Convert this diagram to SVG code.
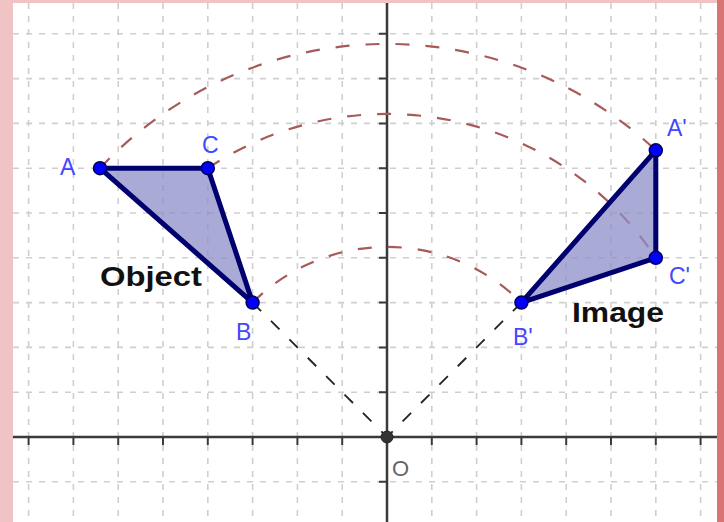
<svg xmlns="http://www.w3.org/2000/svg" width="724" height="522" viewBox="0 0 724 522">
<style>
.grid{stroke:#cfcfcf;stroke-width:1.6;stroke-dasharray:6 7;fill:none}
.axis{stroke:#3a3a3a;stroke-width:2.5;fill:none}
.tick{stroke:#3a3a3a;stroke-width:2;fill:none}
.arc{stroke:#a85a5a;stroke-width:2.2;stroke-dasharray:14 16;fill:none}
.ray{stroke:#222;stroke-width:1.8;stroke-dasharray:12 14;fill:none}
.tri{fill:#8e8ec8;fill-opacity:0.75;stroke:#00006e;stroke-width:5;stroke-linejoin:round}
.pt{fill:#0000ff;stroke:#000050;stroke-width:1.5}
.lbl{font-family:"Liberation Sans",Arial,sans-serif;font-size:23px;fill:#4646ff}
.big{font-family:"Liberation Sans",Arial,sans-serif;font-size:27px;font-weight:bold;fill:#111}
</style>
<rect x="0" y="0" width="724" height="522" fill="#f0c4c4"/>
<rect x="717" y="0" width="7" height="522" fill="#d87474"/>
<rect x="13" y="3" width="704" height="519" fill="#ffffff"/>
<g id="grid">
<path class="grid" d="M28.6 3V522M73.4 3V522M118.2 3V522M163 3V522M207.8 3V522M252.6 3V522M297.4 3V522M342.2 3V522M431.8 3V522M476.6 3V522M521.4 3V522M566.2 3V522M611 3V522M655.8 3V522M700.6 3V522"/>
<path class="grid" d="M13 33.8H717M13 78.6H717M13 123.4H717M13 168.2H717M13 213H717M13 257.8H717M13 302.6H717M13 347.4H717M13 392.2H717M13 481.8H717"/>
</g>
<g id="axes">
<path class="axis" d="M387 3V522M13 437H717"/>
<path class="tick" d="M28.6 437v8M73.4 437v8M118.2 437v8M163 437v8M207.8 437v8M252.6 437v8M297.4 437v8M342.2 437v8M431.8 437v8M476.6 437v8M521.4 437v8M566.2 437v8M611 437v8M655.8 437v8M700.6 437v8"/>
<path class="tick" d="M379 33.8h8M379 78.6h8M379 123.4h8M379 168.2h8M379 213h8M379 257.8h8M379 302.6h8M379 347.4h8M379 392.2h8M379 481.8h8"/>
</g>
<g id="connectors">
<path class="arc" d="M100 168.2A393.2 393.2 0 0 1 655.8 150.3"/>
<path class="arc" d="M207.8 168.2A323.05 323.05 0 0 1 655.8 257.8"/>
<path class="arc" d="M252.6 302.6A190.07 190.07 0 0 1 521.4 302.6"/>
<path class="ray" d="M252.6 302.6L387 437"/>
<path class="ray" d="M521.4 302.6L387 437"/>
</g>
<g id="object">
<polygon class="tri" points="100,168.2 207.8,168.2 252.6,302.6"/>
<circle class="pt" cx="100" cy="168.2" r="6.5"/>
<circle class="pt" cx="207.8" cy="168.2" r="6.5"/>
<circle class="pt" cx="252.6" cy="302.6" r="6.5"/>
<text class="lbl" x="60" y="175">A</text>
<text class="lbl" x="202" y="153">C</text>
<text class="lbl" x="236" y="340">B</text>
<text class="big" x="100" y="286" textLength="102" lengthAdjust="spacingAndGlyphs">Object</text>
</g>
<g id="image">
<polygon class="tri" points="655.8,150.3 655.8,257.8 521.4,302.6"/>
<circle class="pt" cx="655.8" cy="150.3" r="6.5"/>
<circle class="pt" cx="655.8" cy="257.8" r="6.5"/>
<circle class="pt" cx="521.4" cy="302.6" r="6.5"/>
<text class="lbl" x="667" y="136">A'</text>
<text class="lbl" x="669" y="284">C'</text>
<text class="lbl" x="513" y="345">B'</text>
<text class="big" x="572" y="322" textLength="92" lengthAdjust="spacingAndGlyphs">Image</text>
</g>
<g id="origin">
<circle cx="387" cy="437" r="6" fill="#333" stroke="#222" stroke-width="1"/>
<text x="392" y="476" font-family="Liberation Sans,Arial,sans-serif" font-size="22" fill="#666">O</text>
</g>
</svg>
